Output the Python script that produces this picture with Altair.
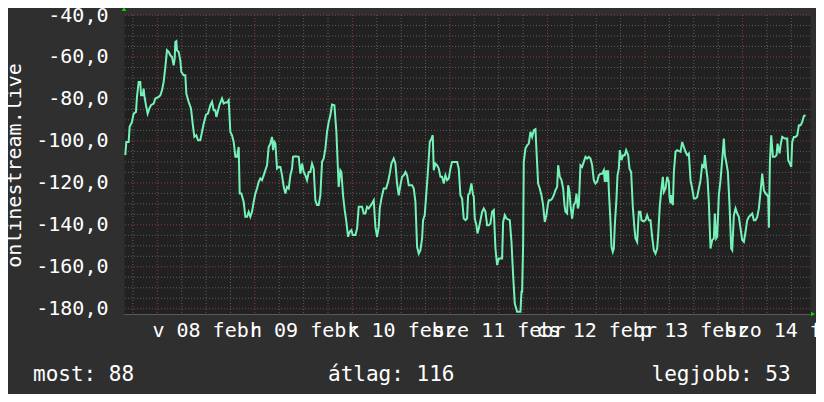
import altair as alt
import pandas as pd

# hours since Feb 08 00:00, value
hours_a = [-7.88, -7.63, -7.06, -6.81, -6.24, -5.83, -5.25, -5.01, -4.59, -4.19, -4.02, -3.61, -3.37, -3.20, -2.79, -2.38, -1.97, -1.56, -0.90, -0.49,
           0.33, 0.74, 1.15, 1.56, 1.97, 2.38, 2.79, 3.20, 3.61, 4.02, 4.27, 4.43, 4.68, 4.84, 5.25, 5.66, 5.91, 6.48, 6.89, 7.14,
           7.71, 8.29, 8.70, 9.11, 9.60, 10.01, 10.58, 10.83, 11.40, 11.98, 12.47, 13.05, 13.46, 13.87, 14.28, 14.52, 14.85, 15.26, 15.92, 16.33,
           16.74, 17.15, 17.56, 17.97, 18.38, 18.79, 19.20, 19.61, 20.02, 20.27, 20.68, 21.25, 21.66, 22.07, 22.48, 22.89, 23.30, 23.71, 24.12, 24.53,
           24.94, 25.35, 25.76, 26.17, 26.58, 26.99, 27.40, 27.81, 28.22, 28.47, 28.80, 29.05, 29.46, 29.87, 30.28, 30.69, 31.10, 31.51, 31.92, 32.33,
           32.74, 33.15, 33.39, 33.97, 34.79, 35.20, 35.61, 36.02, 36.43, 36.84, 37.25, 37.66, 38.07, 38.48, 38.89, 39.30, 39.71, 40.12, 40.53, 40.94,
           41.35, 41.76, 42.17, 42.58, 42.99, 43.57, 44.06, 44.47, 44.63, 45.04, 45.29, 45.70, 46.11, 46.52, 46.93, 47.34, 47.75, 48.08, 48.74, 49.15,
           49.56, 49.97, 50.38, 50.79, 51.20, 51.61, 52.02, 52.84, 53.25, 53.66, 54.07, 54.48, 54.73, 55.14, 55.71, 56.29, 56.78, 57.19, 57.60, 58.17,
           58.58, 58.99, 59.40, 59.82, 60.23, 60.64, 61.05, 61.46, 61.87, 62.69, 63.10, 63.51, 63.92, 64.33, 64.74, 65.15, 65.39, 65.80, 66.22, 66.63,
           67.04, 67.45, 67.77, 68.02, 68.43, 68.84, 69.25, 69.66, 70.07, 70.48, 70.89, 71.30, 71.71, 72.12, 72.53, 73.76, 74.17, 74.58, 74.99, 75.40]
values_a = [-106.8, -100.5, -100.5, -93.3, -91.0, -87.0, -86.2, -79.0, -71.9, -71.9, -78.3, -78.3, -75.1, -78.3, -83.0, -87.0, -84.6, -83.0, -82.2, -79.8,
            -79.0, -78.3, -75.9, -71.9, -64.8, -56.8, -57.6, -59.2, -60.0, -64.0, -60.8, -52.9, -52.5, -56.8, -57.6, -61.6, -67.1, -68.7, -68.7, -77.5,
            -81.4, -84.6, -91.8, -98.1, -97.3, -99.7, -99.7, -97.3, -91.8, -87.5, -87.0, -83.0, -81.4, -85.4, -85.4, -88.6, -86.2, -83.0, -79.8, -82.2,
            -81.7, -81.7, -80.6, -95.7, -97.3, -100.5, -107.6, -107.6, -102.9, -125.1, -125.1, -129.1, -136.2, -136.2, -133.8, -136.2, -133.8, -129.1, -125.1, -122.7,
            -119.5, -117.9, -118.7, -116.4, -114.0, -111.6, -102.9, -101.3, -98.1, -104.4, -100.5, -101.3, -113.2, -112.4, -112.4, -116.4, -121.9, -125.1, -121.9, -122.7,
            -116.4, -113.2, -107.6, -107.3, -107.6, -115.6, -110.8, -114.8, -116.4, -118.7, -114.8, -114.8, -110.8, -113.2, -128.3, -130.6, -130.6, -125.9, -110.0, -108.4,
            -103.7, -95.7, -91.0, -87.8, -82.7, -83.0, -95.7, -114.8, -121.9, -114.0, -114.8, -125.9, -133.0, -138.6, -145.7, -143.3, -142.5, -144.9, -144.9, -141.8,
            -131.4, -131.4, -131.4, -134.6, -134.6, -131.4, -132.2, -129.8, -128.3, -141.0, -145.7, -141.0, -132.2, -127.5, -122.7, -122.7, -119.5, -115.6, -110.8, -108.4,
            -110.8, -120.3, -125.9, -121.1, -117.1, -116.4, -114.8, -116.4, -121.1, -121.1, -122.7, -129.1, -150.5, -153.7, -152.1, -146.5, -137.8, -135.4, -124.3, -113.2,
            -100.5, -98.9, -97.3, -114.0, -110.8, -111.6, -113.2, -117.1, -117.1, -120.3, -116.4, -118.7, -117.9, -113.2, -110.0, -110.0, -113.2, -125.9, -127.5, -137.0]

hours_b = [75.82, 76.23, 76.47, 76.80, 77.29, 77.62, 77.87, 78.11, 78.52, 78.77, 79.10, 79.51, 79.92, 80.33, 80.74, 81.15, 81.56, 81.97, 82.38, 82.79,
           83.20, 83.61, 84.02, 84.84, 85.09, 85.50, 85.91, 86.73, 87.14, 87.55, 87.96, 88.53, 89.35, 89.60, 89.76, 90.01, 90.17, 90.58, 90.99, 91.40,
           91.81, 92.23, 92.64, 93.05, 93.29, 93.70, 94.11, 94.52, 94.93, 95.34, 95.75, 96.08, 96.33, 96.74, 97.15, 97.56, 97.97, 98.38, 98.63, 99.04,
           99.45, 99.86, 100.19, 100.43, 100.84, 101.09, 101.42, 101.66, 102.07, 102.48, 102.89, 103.14, 103.47, 103.71, 104.12, 104.53, 104.94, 105.35, 105.76, 106.17,
           106.58, 106.99, 107.40, 107.81, 108.23, 108.64, 109.05, 109.46, 109.87, 110.11, 110.44, 110.69, 110.93, 111.10, 111.51, 111.75, 112.08, 112.33, 112.57, 112.98,
           113.23, 113.56, 113.80, 114.21, 114.62, 115.03, 115.36, 115.86, 116.18, 116.59, 117.00, 117.41, 117.66, 118.07, 118.48, 118.89, 119.14, 119.71, 120.12, 120.53,
           120.94, 121.35, 121.76, 122.17, 122.58, 122.99, 123.24, 123.65, 124.06, 124.39, 124.64, 125.05, 125.46, 125.87, 126.03, 126.28, 126.52, 126.85, 127.10, 127.51,
           127.92, 128.74, 129.15, 129.56, 129.97, 130.38, 130.79, 131.20, 131.61, 132.02, 132.43, 132.84, 133.25, 133.66, 134.07, 134.48, 134.73, 135.06, 135.38, 135.71,
           136.12, 136.53, 136.94, 137.19, 137.52, 137.76, 138.17, 138.58, 138.99, 139.40, 139.65, 139.98, 140.39, 140.80, 141.21, 141.46, 141.87, 142.28, 142.69, 143.10,
           143.51, 143.92, 144.33, 144.74, 145.15, 145.56, 145.97, 146.38, 146.79, 147.20, 147.61, 148.02, 148.43, 148.84, 149.25, 149.66, 150.07, 150.32, 150.48, 150.73,
           151.06, 151.47, 151.96, 152.37, 152.61, 153.11, 153.35, 153.76, 154.42, 154.99, 155.24, 155.65, 155.98, 156.22, 156.63, 157.05, 157.46, 157.87, 158.28, 158.69,
           159.10, 159.51]
values_b = [-137.8, -137.0, -125.9, -125.1, -120.3, -125.1, -126.7, -137.0, -140.2, -144.1, -141.8, -137.8, -133.8, -132.2, -133.8, -140.2, -140.2, -139.4, -133.8, -133.0,
            -151.3, -159.2, -156.0, -156.0, -138.6, -135.4, -137.0, -137.8, -148.1, -164.0, -177.5, -181.4, -181.4, -171.9, -171.9, -149.7, -110.0, -103.7, -102.1, -101.3,
            -95.7, -98.1, -94.9, -94.4, -104.4, -120.3, -122.7, -125.9, -130.6, -138.6, -135.4, -130.6, -128.3, -128.3, -127.5, -125.9, -123.5, -121.9, -111.6, -117.1,
            -118.7, -122.7, -130.6, -133.8, -134.6, -121.1, -124.3, -130.6, -137.0, -130.6, -129.1, -125.1, -132.2, -130.6, -111.6, -112.4, -110.0, -107.6, -108.4, -107.6,
            -108.4, -111.6, -118.7, -120.3, -119.5, -116.4, -115.6, -115.6, -114.0, -119.5, -114.0, -119.5, -114.0, -123.5, -138.6, -150.5, -152.9, -151.3, -140.2, -127.5,
            -116.4, -113.2, -104.4, -109.2, -106.8, -106.8, -104.4, -106.8, -113.2, -114.8, -131.4, -141.8, -146.5, -148.1, -133.8, -133.8, -137.8, -138.3, -137.8, -135.4,
            -137.8, -137.8, -145.7, -152.1, -153.7, -151.3, -144.9, -130.6, -122.7, -117.1, -124.3, -122.7, -117.1, -119.5, -126.7, -129.8, -125.9, -130.6, -114.8, -105.2,
            -104.4, -105.2, -100.5, -102.9, -105.2, -106.8, -106.0, -118.7, -122.7, -127.5, -127.5, -126.7, -122.7, -118.7, -111.6, -112.4, -106.8, -113.2, -117.9, -129.1,
            -151.3, -147.3, -146.5, -134.6, -146.5, -145.7, -125.9, -118.7, -109.2, -98.9, -106.8, -110.0, -114.8, -130.6, -151.3, -152.1, -135.4, -132.2, -134.6, -136.2,
            -141.8, -147.3, -148.1, -143.3, -137.8, -136.2, -135.4, -134.6, -137.8, -137.8, -136.2, -132.2, -124.3, -115.6, -123.5, -125.1, -125.9, -126.7, -141.4, -110.0,
            -97.3, -107.6, -107.6, -106.8, -101.3, -106.0, -102.1, -98.1, -98.9, -98.9, -109.2, -110.8, -112.4, -100.5, -98.1, -98.1, -97.3, -92.6, -92.6, -91.0,
            -88.1, -87.8]

assert len(hours_a) == len(values_a), (len(hours_a), len(values_a))
assert len(hours_b) == len(values_b), (len(hours_b), len(values_b))

day_label_hours = [12, 36, 60, 84, 108, 132, 156]
day_labels = ["v 08 febr", "h 09 febr", "k 10 febr", "sze 11 febr", "cs 12 febr", "p 13 febr", "szo 14 febr"]
y_ticks = [-180, -160, -140, -120, -100, -80, -60, -40]
legend_texts = ["most: 88", "átlag: 116", "legjobb: 53"]
y_title = "onlinestream.live"

X_DOMAIN = [-8.2, 160.6]
Y_DOMAIN = [-182.5, -40]

df = pd.DataFrame({"h": hours_a + hours_b, "v": values_a + values_b})

minor_x = pd.DataFrame({"h": [h for h in range(-6, 161, 6) if h % 24 != 0]})
major_x = pd.DataFrame({"h": list(range(0, 161, 24))})
minor_y = pd.DataFrame({"v": [v for v in range(-180, -39, 5) if v % 20 != 0]})
major_y = pd.DataFrame({"v": y_ticks})

xs = alt.Scale(domain=X_DOMAIN, nice=False, zero=False)
ys = alt.Scale(domain=Y_DOMAIN, nice=False, zero=False)

FONT = "DejaVu Sans Mono"
label_expr_x = "[" + ",".join("'" + s + "'" for s in day_labels) + "][indexof([" + ",".join(str(h) for h in day_label_hours) + "], datum.value)]"

x_axis = alt.Axis(values=day_label_hours, labelExpr=label_expr_x, title=None, grid=False, ticks=False,
                  domain=True, domainColor="#5a5a5a", labelOverlap=False, labelBound=False, labelFlush=False,
                  labelFont=FONT, labelFontSize=20, labelColor="#ffffff", labelPadding=6)
y_axis = alt.Axis(values=y_ticks, labelExpr="'-' + replace(format(abs(datum.value), '.1f'), '.', ',')",
                  title=y_title, grid=False, ticks=False, domain=False, labelOverlap=False,
                  labelFont=FONT, labelFontSize=20, labelColor="#ffffff", labelPadding=16,
                  titleFont=FONT, titleFontSize=20, titleFontWeight="normal", titleColor="#ffffff",
                  titleAngle=270, titleX=-110, titleY=150, titleAlign="center", titleBaseline="middle")

minor_v = alt.Chart(minor_x).mark_rule(color="#5e5e5e", strokeDash=[1, 2], strokeWidth=1).encode(x=alt.X("h:Q", scale=xs, axis=x_axis))
minor_h = alt.Chart(minor_y).mark_rule(color="#5e5e5e", strokeDash=[1, 2], strokeWidth=1).encode(y=alt.Y("v:Q", scale=ys, axis=y_axis))
major_v = alt.Chart(major_x).mark_rule(color="#8e3a3a", strokeDash=[1, 2], strokeWidth=1).encode(x=alt.X("h:Q", scale=xs))
major_h = alt.Chart(major_y).mark_rule(color="#8e3a3a", strokeDash=[1, 2], strokeWidth=1).encode(y=alt.Y("v:Q", scale=ys))

line = alt.Chart(df).mark_line(color="#74f2b8", strokeWidth=2, interpolate="linear").encode(
    x=alt.X("h:Q", scale=xs), y=alt.Y("v:Q", scale=ys))

arrow_up = alt.Chart(pd.DataFrame({"h": [X_DOMAIN[0]], "v": [Y_DOMAIN[1]]})).mark_point(
    shape="triangle-up", filled=True, color="#00dd00", size=22, opacity=1, yOffset=-6).encode(
    x=alt.X("h:Q", scale=xs), y=alt.Y("v:Q", scale=ys))
arrow_right = alt.Chart(pd.DataFrame({"h": [X_DOMAIN[1]], "v": [Y_DOMAIN[0]]})).mark_point(
    shape="triangle-right", filled=True, color="#00dd00", size=22, opacity=1, xOffset=3).encode(
    x=alt.X("h:Q", scale=xs), y=alt.Y("v:Q", scale=ys))

legend_x = [-91, 204, 527.5]
legend_layers = []
for txt, lx in zip(legend_texts, legend_x):
    legend_layers.append(
        alt.Chart(pd.DataFrame({"t": [txt]})).mark_text(
            font=FONT, fontSize=21, color="#ffffff", align="left", baseline="alphabetic").encode(
            x=alt.value(lx), y=alt.value(366), text="t:N"))

chart = alt.layer(minor_v, minor_h, major_v, major_h, line, arrow_up, arrow_right, *legend_layers).properties(
    width=686, height=299,
    autosize=alt.AutoSizeParams(type="none"),
    padding={"left": 116, "top": 7, "right": 6, "bottom": 80},
    background="#2f2f2f",
).configure_view(fill="#212121", stroke="transparent")

chart.save("out.html", embed_options={"renderer": "svg", "actions": False})
